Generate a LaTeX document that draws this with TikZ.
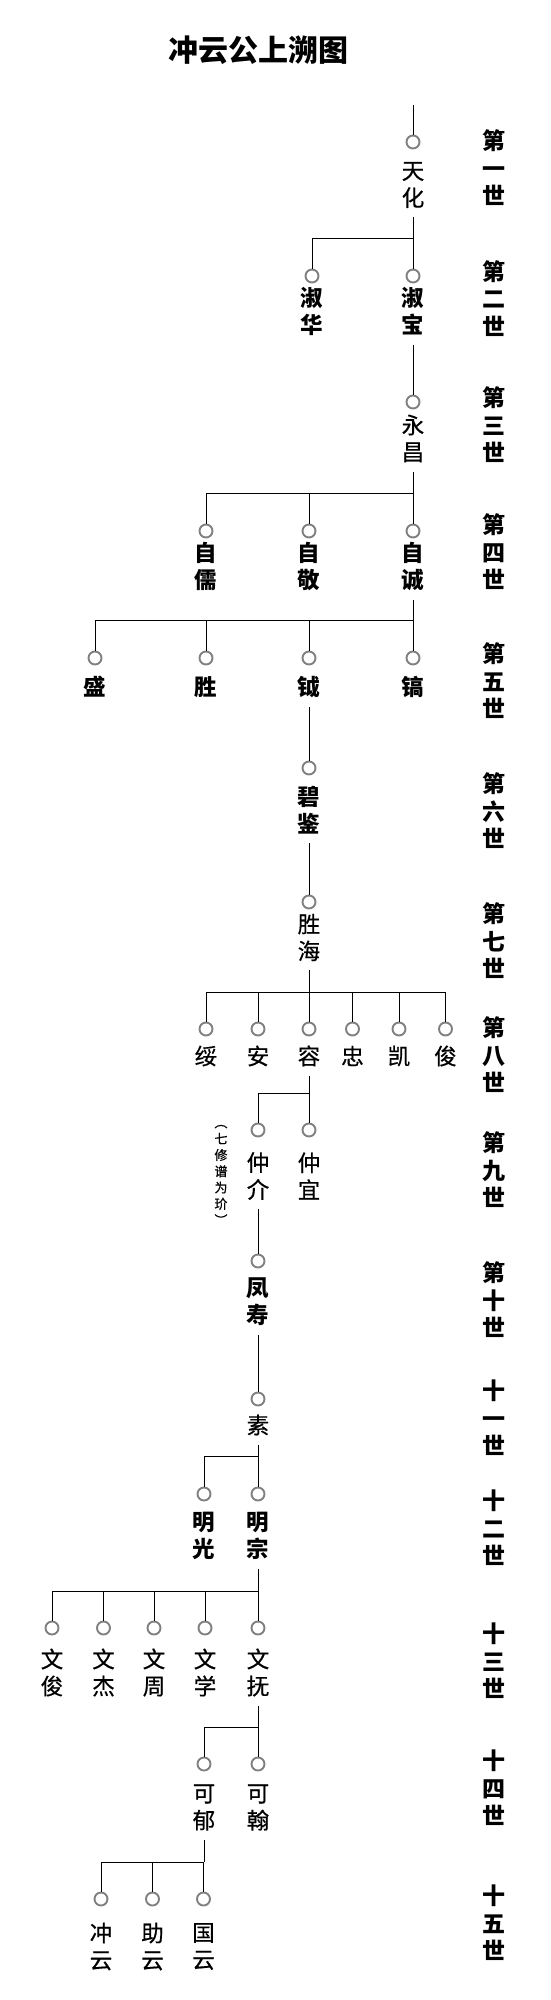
\documentclass[tikz,border=0pt]{standalone}
\usepackage{fontspec}
\newfontfamily\cjk{Noto Sans CJK SC}
\newfontfamily\cjkm[FakeBold=0.6]{Noto Sans CJK SC}
\usetikzlibrary{calc}
\tikzset{
  pers/.style={circle,draw=black!50,line width=1.9pt,minimum size=13pt,inner sep=0pt,fill=white},
  nm/.style={font=\cjkm\fontsize{22.5}{27}\selectfont,align=center,inner xsep=0pt,inner ysep=9pt},
  nmb/.style={nm,font=\cjk\bfseries\fontsize{22.5}{27}\selectfont},
  gen/.style={font=\cjk\bfseries\fontsize{23}{27.5}\selectfont,align=center,inner sep=0pt},
  note/.style={font=\cjkm\fontsize{13}{16.3}\selectfont,align=center,inner sep=0pt},
  ttl/.style={font=\cjk\bfseries\fontsize{30}{34}\selectfont,inner sep=0pt},
  ln/.style={draw=black,line width=1pt}
}
\begin{document}
\begin{tikzpicture}[x=1pt,y=-1pt]
\useasboundingbox[fill=white] (0,0) rectangle (550,2000);
\node[ttl] (title) at (258.5,50) {冲云公上溯图};
% generation labels
\node[gen] (g1) at (494,168) {第\\一\\世};
\node[gen] (g2) at (494,298.5) {第\\二\\世};
\node[gen] (g3) at (494,425) {第\\三\\世};
\node[gen] (g4) at (494,552) {第\\四\\世};
\node[gen] (g5) at (494,681) {第\\五\\世};
\node[gen] (g6) at (494,811) {第\\六\\世};
\node[gen] (g7) at (494,941) {第\\七\\世};
\node[gen] (g8) at (494,1055) {第\\八\\世};
\node[gen] (g9) at (494,1170) {第\\九\\世};
\node[gen] (g10) at (494,1300) {第\\十\\世};
\node[gen] (g11) at (494,1418) {十\\一\\世};
\node[gen] (g12) at (494,1528) {十\\二\\世};
\node[gen] (g13) at (494,1661) {十\\三\\世};
\node[gen] (g14) at (494,1788) {十\\四\\世};
\node[gen] (g15) at (494,1923) {十\\五\\世};
% gen 1
\coordinate (top) at (413,105);
\node[pers] (c1) at (413,142) {};
\node[nm] (n1) at (413,185) {天\\化};
\draw[ln] (top) -- (c1.north);
% gen 2
\coordinate (b2) at (0,238);
\node[pers] (c2a) at (312,276) {};
\node[pers] (c2b) at (413,276) {};
\node[nmb] (n2a) at (312,311.5) {淑\\华};
\node[nmb] (n2b) at (413,311.5) {淑\\宝};
\draw[ln] (n1.south) -- (n1.south |- b2);
\draw[ln] (c2a.north |- b2) -- (c2b.north |- b2);
\draw[ln] (c2a.north |- b2) -- (c2a.north);
\draw[ln] (c2b.north |- b2) -- (c2b.north);
% gen 3
\node[pers] (c3) at (413,402) {};
\node[nm] (n3) at (413,438.5) {永\\昌};
\draw[ln] (n2b.south) -- (c3.north);
% gen 4
\coordinate (b4) at (0,493);
\node[pers] (c4a) at (206,531) {};
\node[pers] (c4b) at (309,531) {};
\node[pers] (c4c) at (413,531) {};
\node[nmb] (n4a) at (206,566.5) {自\\儒};
\node[nmb] (n4b) at (309,566.5) {自\\敬};
\node[nmb] (n4c) at (413,566.5) {自\\诚};
\draw[ln] (n3.south) -- (n3.south |- b4);
\draw[ln] (c4a.north |- b4) -- (c4c.north |- b4);
\foreach \c in {c4a,c4b,c4c} \draw[ln] (\c.north |- b4) -- (\c.north);
% gen 5
\coordinate (b5) at (0,620);
\node[pers] (c5a) at (95,658) {};
\node[pers] (c5b) at (206,658) {};
\node[pers] (c5c) at (309,658) {};
\node[pers] (c5d) at (413,658) {};
\node[nmb] (n5a) at (95,687) {盛};
\node[nmb] (n5b) at (206,687) {胜};
\node[nmb] (n5c) at (309,687) {钺};
\node[nmb] (n5d) at (413,687) {镐};
\draw[ln] (n4c.south) -- (n4c.south |- b5);
\draw[ln] (c5a.north |- b5) -- (c5d.north |- b5);
\foreach \c in {c5a,c5b,c5c,c5d} \draw[ln] (\c.north |- b5) -- (\c.north);
% gen 6
\node[pers] (c6) at (309,768) {};
\node[nmb] (n6) at (309,810) {碧\\鉴};
\draw[ln] (n5c.south) -- (c6.north);
% gen 7
\node[pers] (c7) at (309,902) {};
\node[nm] (n7) at (309,937.5) {胜\\海};
\draw[ln] (n6.south) -- (c7.north);
% gen 8
\coordinate (b8) at (0,992);
\node[pers] (c8a) at (206,1029) {};
\node[pers] (c8b) at (258,1029) {};
\node[pers] (c8c) at (309,1029) {};
\node[pers] (c8d) at (352.5,1029) {};
\node[pers] (c8e) at (399,1029) {};
\node[pers] (c8f) at (445.5,1029) {};
\node[nm] (n8a) at (206,1056) {绥};
\node[nm] (n8b) at (258,1056) {安};
\node[nm] (n8c) at (309,1056) {容};
\node[nm] (n8d) at (352.5,1056) {忠};
\node[nm] (n8e) at (399,1056) {凯};
\node[nm] (n8f) at (445.5,1056) {俊};
\draw[ln] (n7.south) -- (n7.south |- b8);
\draw[ln] (c8a.north |- b8) -- (c8f.north |- b8);
\foreach \c in {c8a,c8b,c8c,c8d,c8e,c8f} \draw[ln] (\c.north |- b8) -- (\c.north);
% gen 9
\coordinate (b9) at (0,1093);
\node[pers] (c9a) at (258,1130) {};
\node[pers] (c9b) at (309,1130) {};
\node[nm] (n9a) at (258,1176) {仲\\介};
\node[nm] (n9b) at (309,1176) {仲\\宜};
\node[note] (note) at (221,1175) {︵\\七\\修\\谱\\为\\玠\\︶};
\draw[ln] (n8c.south) -- (n8c.south |- b9);
\draw[ln] (c9a.north |- b9) -- (c9b.north |- b9);
\foreach \c in {c9a,c9b} \draw[ln] (\c.north |- b9) -- (\c.north);
% gen 10
\node[pers] (c10) at (258,1261) {};
\node[nmb] (n10) at (258,1301.5) {凤\\寿};
\draw[ln] (n9a.south) -- (c10.north);
% gen 11
\node[pers] (c11) at (258,1399) {};
\node[nm] (n11) at (258,1425) {素};
\draw[ln] (n10.south) -- (c11.north);
% gen 12
\coordinate (b12) at (0,1456);
\node[pers] (c12a) at (204,1494) {};
\node[pers] (c12b) at (258,1494) {};
\node[nmb] (n12a) at (204,1536) {明\\光};
\node[nmb] (n12b) at (258,1536) {明\\宗};
\draw[ln] (n11.south) -- (n11.south |- b12);
\draw[ln] (c12a.north |- b12) -- (c12b.north |- b12);
\foreach \c in {c12a,c12b} \draw[ln] (\c.north |- b12) -- (\c.north);
% gen 13
\coordinate (b13) at (0,1591);
\node[pers] (c13a) at (52,1628) {};
\node[pers] (c13b) at (103.5,1628) {};
\node[pers] (c13c) at (154,1628) {};
\node[pers] (c13d) at (205,1628) {};
\node[pers] (c13e) at (258,1628) {};
\node[nm] (n13a) at (52,1672.5) {文\\俊};
\node[nm] (n13b) at (103.5,1672.5) {文\\杰};
\node[nm] (n13c) at (154,1672.5) {文\\周};
\node[nm] (n13d) at (205,1672.5) {文\\学};
\node[nm] (n13e) at (258,1672.5) {文\\抚};
\draw[ln] (n12b.south) -- (n12b.south |- b13);
\draw[ln] (c13a.north |- b13) -- (c13e.north |- b13);
\foreach \c in {c13a,c13b,c13c,c13d,c13e} \draw[ln] (\c.north |- b13) -- (\c.north);
% gen 14
\coordinate (b14) at (0,1727);
\node[pers] (c14a) at (204,1764) {};
\node[pers] (c14b) at (258,1764) {};
\node[nm] (n14a) at (204,1807.5) {可\\郁};
\node[nm] (n14b) at (258,1807.5) {可\\翰};
\draw[ln] (n13e.south) -- (n13e.south |- b14);
\draw[ln] (c14a.north |- b14) -- (c14b.north |- b14);
\foreach \c in {c14a,c14b} \draw[ln] (\c.north |- b14) -- (\c.north);
% gen 15
\coordinate (b15) at (0,1862);
\node[pers] (c15a) at (101,1899) {};
\node[pers] (c15b) at (152.5,1899) {};
\node[pers] (c15c) at (203.5,1899) {};
\node[nm] (n15a) at (101,1946.5) {冲\\云};
\node[nm] (n15b) at (152.5,1946.5) {助\\云};
\node[nm] (n15c) at (203.5,1946.5) {国\\云};
\draw[ln] (n14a.south) -- (n14a.south |- b15);
\draw[ln] (c15a.north |- b15) -- (c15c.north |- b15);
\foreach \c in {c15a,c15b,c15c} \draw[ln] (\c.north |- b15) -- (\c.north);
\end{tikzpicture}
\end{document}
